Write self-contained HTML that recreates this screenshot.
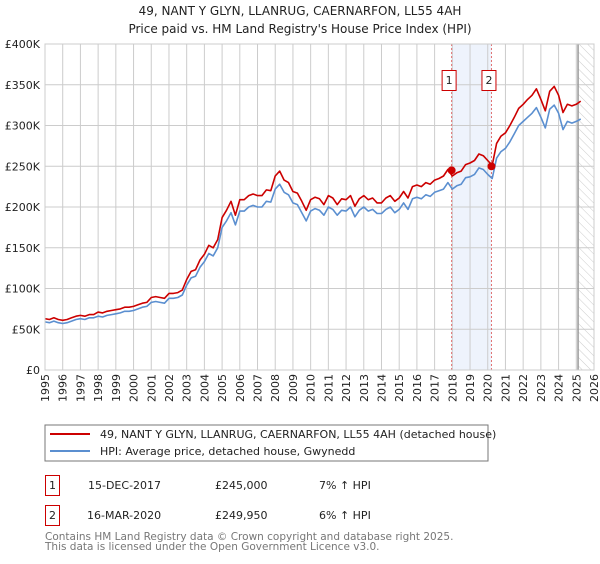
<!DOCTYPE html>
<html><head><meta charset="utf-8"><style>
body{margin:0;background:#fff;font-family:"DejaVu Sans","Liberation Sans",sans-serif;}
svg text{font-family:"DejaVu Sans","Liberation Sans",sans-serif;}
</style></head><body>
<svg id="chart" width="600" height="560" viewBox="0 0 600 560" xmlns="http://www.w3.org/2000/svg">
<defs><pattern id="hatch" width="6" height="6" patternUnits="userSpaceOnUse" patternTransform="rotate(-45)"><line x1="0" y1="0" x2="0" y2="6" stroke="#ccc" stroke-width="1"/></pattern></defs>
<text x="300" y="15" text-anchor="middle" font-size="12" fill="#222">49, NANT Y GLYN, LLANRUG, CAERNARFON, LL55 4AH</text>
<text x="300" y="33" text-anchor="middle" font-size="12" fill="#222">Price paid vs. HM Land Registry's House Price Index (HPI)</text>
<g id="grid"></g><g id="marks"></g><g id="axes"></g>
<rect x="45" y="425" width="443" height="36" fill="#fff" stroke="#777"/>
<line x1="50" y1="434" x2="90" y2="434" stroke="#cc0000" stroke-width="2"/>
<text x="100" y="438" font-size="11" fill="#222">49, NANT Y GLYN, LLANRUG, CAERNARFON, LL55 4AH (detached house)</text>
<line x1="50" y1="451" x2="90" y2="451" stroke="#5b8fd0" stroke-width="2"/>
<text x="100" y="455" font-size="11" fill="#222">HPI: Average price, detached house, Gwynedd</text>
<g font-size="11" fill="#222">
<rect x="45.5" y="475.5" width="14" height="20" fill="none" stroke="#cc0000"/>
<text x="52.5" y="489" text-anchor="middle">1</text>
<text x="88" y="489">15-DEC-2017</text>
<text x="215" y="489">£245,000</text>
<text x="319" y="489">7% ↑ HPI</text>
<rect x="45.5" y="505.5" width="14" height="20" fill="none" stroke="#cc0000"/>
<text x="52.5" y="519" text-anchor="middle">2</text>
<text x="87" y="519">16-MAR-2020</text>
<text x="215" y="519">£249,950</text>
<text x="319" y="519">6% ↑ HPI</text>
</g>
<text x="45" y="540" font-size="10.5" fill="#777">Contains HM Land Registry data © Crown copyright and database right 2025.</text>
<text x="45" y="550" font-size="10.5" fill="#777">This data is licensed under the Open Government Licence v3.0.</text>
</svg>
<script>
const startYear = 1995;
const stepYears = 0.25;
const hpiValues = [59,58,60,58,57,58,60,62,63,62,64,64,66,65,67,68,69,70,72,72,73,75,77,78,83,84,83,82,88,88,89,92,104,113,115,126,133,143,140,150,175,183,193,178,195,195,200,202,200,200,207,206,222,228,218,215,205,203,193,183,195,198,196,190,200,197,190,196,195,200,188,196,200,195,197,192,192,197,200,193,197,205,197,210,212,210,215,213,218,220,222,230,222,226,228,236,237,240,248,246,240,235,260,268,272,280,290,300,305,310,315,322,310,297,320,325,315,295,305,303,305,308];
const propertyValues = [63,62,64,62,61,62,64,66,67,66,68,68,71,70,72,73,74,75,77,77,78,80,82,83,89,90,89,88,94,94,95,98,111,121,123,135,142,153,150,160,187,196,207,190,209,209,214,216,214,214,221,220,238,244,233,230,219,217,207,196,209,212,210,203,214,211,203,210,209,214,201,210,214,209,211,205,205,211,214,207,211,219,211,225,227,225,230,228,233,235,238,246,238,242,244,252,254,257,265,263,257,251,278,287,291,300,310,321,326,332,337,345,332,318,342,348,337,316,326,324,326,330];
const yTicks = [0,50,100,150,200,250,300,350,400];
const yTickLabels = ["£0","£50K","£100K","£150K","£200K","£250K","£300K","£350K","£400K"];
const xTicks = [1995,1996,1997,1998,1999,2000,2001,2002,2003,2004,2005,2006,2007,2008,2009,2010,2011,2012,2013,2014,2015,2016,2017,2018,2019,2020,2021,2022,2023,2024,2025,2026];
const saleLabels = ["1","2"];
const saleYears = [2017.96,2020.21];
const salePrices = [245,249.95];
const projectionStart = 2025.1;

const X0=45,X1=594,Y0=370,Y1=44;
const x = v => X0 + (v-1995)/(2026-1995)*(X1-X0);
const y = v => Y0 - v/400*(Y0-Y1);
const NS="http://www.w3.org/2000/svg";
function mk(tag, parent, attrs){const e=document.createElementNS(NS,tag);for(const k in attrs)e.setAttribute(k,attrs[k]);parent.appendChild(e);return e;}
const grid=document.getElementById('grid'), marks=document.getElementById('marks'), axes=document.getElementById('axes');

let band=mk('rect',grid,{x:x(saleYears[0]),y:Y1,width:x(saleYears[1])-x(saleYears[0]),height:Y0-Y1,fill:'#eef3fc'});


yTicks.forEach((t,i)=>{
  let l=mk('line',grid,{x1:X0,x2:X1,y1:y(t),y2:y(t),stroke:'#ccc'});
  
  
  let tx=mk('text',axes,{x:40,y:y(t)+4,'text-anchor':'end','font-size':11,fill:'#222'});
  tx.textContent=yTickLabels[i];
  
  
});
xTicks.forEach(t=>{
  let l=mk('line',grid,{x1:x(t),x2:x(t),y1:Y1,y2:Y0,stroke:'#ccc'});
  
  
  let tx=mk('text',axes,{x:0,y:0,'text-anchor':'end','font-size':11,fill:'#222',transform:`translate(${x(t)+4},374) rotate(-90)`});
  tx.textContent=t;
  
  
});
let hat=mk('rect',grid,{x:x(projectionStart),y:Y1,width:X1-x(projectionStart),height:Y0-Y1,fill:'url(#hatch)'});


let pl=mk('line',grid,{x1:x(projectionStart),x2:x(projectionStart),y1:Y1,y2:Y0,stroke:'#999','stroke-width':1.5});


saleYears.forEach((s,i)=>{
  let l=mk('line',marks,{x1:x(s),x2:x(s),y1:Y1,y2:Y0,stroke:'#e07070','stroke-dasharray':'2,2'});
  
  
});
function path(vals,color,name){
  const d=vals.map((v,i)=>(i?'L':'M')+x(startYear+i*stepYears).toFixed(1)+','+y(v).toFixed(1)).join('');
  let p=mk('path',marks,{d:d,fill:'none',stroke:color,'stroke-width':1.6,'stroke-linejoin':'round'});
  
  
}
path(hpiValues,'#5b8fd0','hpi-line');
path(propertyValues,'#cc0000','property-price-line');
saleYears.forEach((s,i)=>{
  let c=mk('circle',marks,{cx:x(s),cy:y(salePrices[i]),r:4,fill:'#cc0000'});
  
  
  let bx=x(s)-10;
  let r=mk('rect',marks,{x:bx+0.5,y:70.5,width:14,height:20,fill:'#fff',stroke:'#cc0000'});
  
  
  let t=mk('text',marks,{x:bx+7.5,y:84,'text-anchor':'middle','font-size':11,fill:'#222'});
  t.textContent=saleLabels[i];
  
  
});
let fr=mk('rect',axes,{x:X0,y:Y1,width:X1-X0,height:Y0-Y1,fill:'none',stroke:'#ccc'});


</script>
</body></html>
